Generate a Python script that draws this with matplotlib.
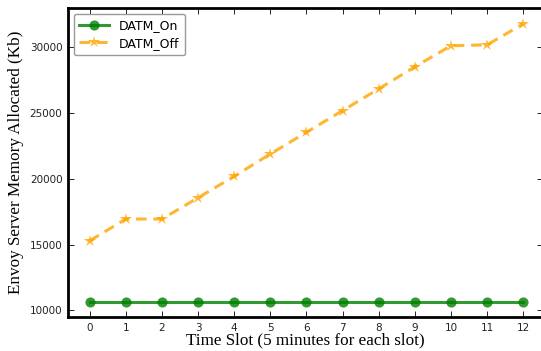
import matplotlib
matplotlib.use("Agg")
import matplotlib.pyplot as plt

slots = list(range(13))
datm_on = [10620] * 13
datm_off = [15300, 16950, 16950, 18570, 20200, 21900, 23550, 25200, 26850, 28530, 30130, 30200, 31800]

fig = plt.figure(figsize=(5.41, 3.51), dpi=100)
ax = fig.add_axes([68/541, 1 - 317/351, 1.004 - 68/541, (317 - 8)/351])

ax.plot(slots, datm_on, color='green', alpha=0.8, lw=2.2, marker='o', ms=7.3,
        mew=0, label='DATM_On')
ax.plot(slots, datm_off, color='orange', alpha=0.8, lw=2.2, ls='--', dashes=(3.5, 2.2),
        marker='*', ms=9, mew=0, label='DATM_Off')

ax.set_xlim(-0.6, 12.55)
ax.set_ylim(9500, 33000)
ax.set_xticks(slots)
ax.set_yticks([10000, 15000, 20000, 25000, 30000])
ax.tick_params(direction='in', top=True, right=True, labelsize=7.5, length=4, width=0.6,
               pad=4, labelcolor='#222222')
for s in ['top', 'left', 'bottom']:
    ax.spines[s].set_linewidth(2)
ax.spines['right'].set_visible(False)

ax.set_xlabel('Time Slot (5 minutes for each slot)', family='Liberation Serif', fontsize=12.3,
              labelpad=0)
ax.set_ylabel('Envoy Server Memory Allocated (Kb)', family='Liberation Serif', fontsize=12.3,
              labelpad=4)

leg = ax.legend(loc='upper left', fontsize=9, fancybox=True, framealpha=1,
                borderpad=0.45, handlelength=2.4, labelspacing=0.35, borderaxespad=0.45)
leg.get_frame().set_edgecolor('#999999')

fig.savefig('out.png', dpi=100)
